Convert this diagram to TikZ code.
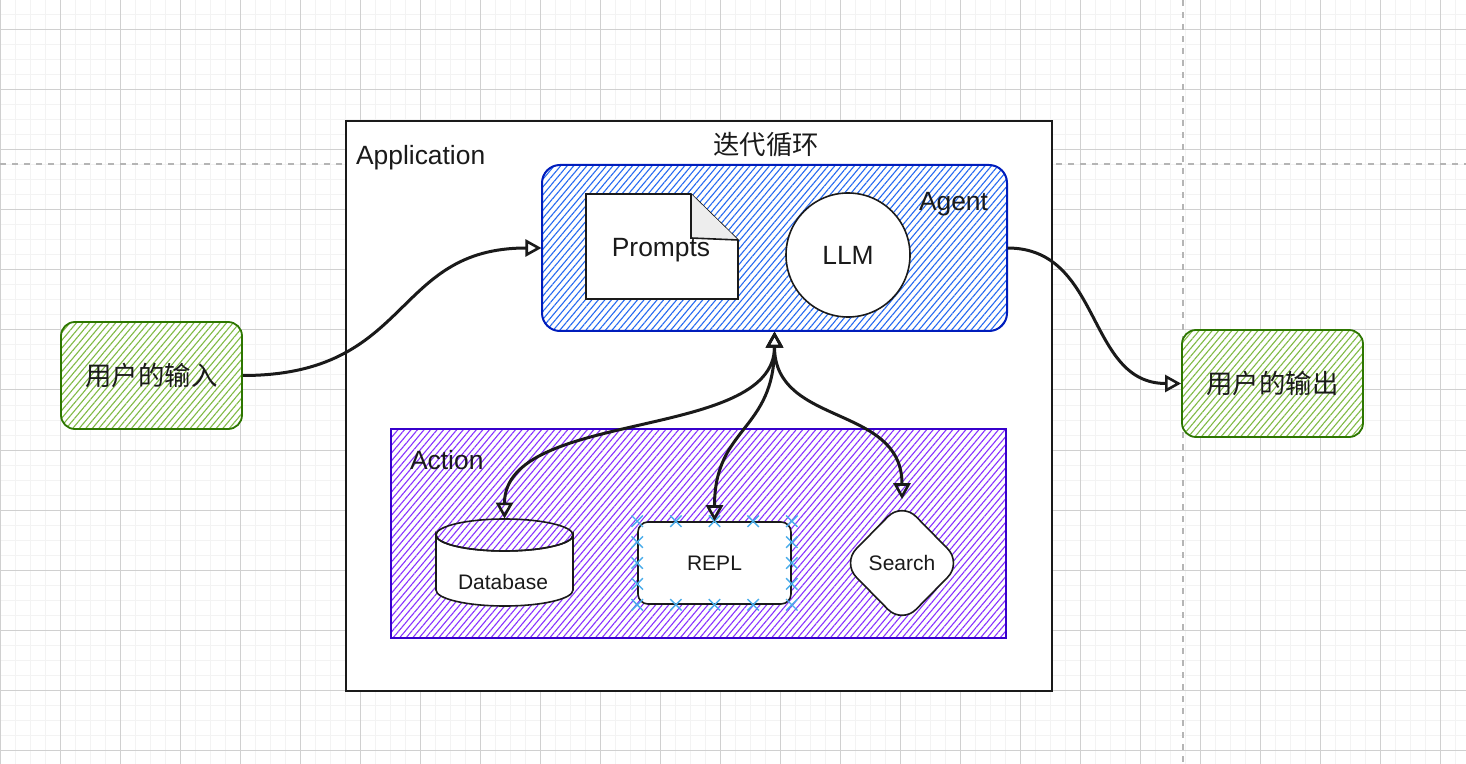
\documentclass[tikz,border=0pt]{standalone}
\usepackage{fontspec}
\setmainfont{Liberation Sans}
\newfontfamily\cjk{Noto Sans CJK SC}
\usetikzlibrary{shapes.geometric,shapes.misc,patterns.meta,arrows.meta,calc}

\definecolor{ink}{HTML}{1A1A1A}
\definecolor{gridminor}{HTML}{F3F3F3}
\definecolor{gridmajor}{HTML}{D0D0D0}
\definecolor{guide}{HTML}{B5B5B5}
\definecolor{greenline}{HTML}{2D7600}
\definecolor{greenfill}{HTML}{60A917}
\definecolor{blueline}{HTML}{001DBC}
\definecolor{bluefill}{HTML}{0050EF}
\definecolor{violetline}{HTML}{3700CC}
\definecolor{violetfill}{HTML}{6A00FF}
\definecolor{marker}{HTML}{4AADEB}
\definecolor{foldgray}{HTML}{EDEDED}

\newcommand\txtbig{\fontsize{13.2pt}{15pt}\selectfont}
\newcommand\txtsmall{\fontsize{10.5pt}{12pt}\selectfont}

\tikzset{
	hatch/.style={preaction={fill=white},
		pattern={Lines[angle=50,distance=2.5pt,line width=0.55pt]},
		pattern color=#1},
	userbox/.style={rectangle, rounded corners=7pt, draw=greenline, line width=0.9pt,
		hatch=greenfill!80, minimum width=90.5pt, minimum height=53.5pt,
		inner sep=0pt, font=\txtbig\cjk, text=ink},
	toolshape/.style={draw=ink, line width=0.8pt, fill=white, inner sep=0pt,
		font=\txtsmall, text=ink},
	xmark/.style={cross out, draw=marker, line width=0.7pt, minimum size=5pt, inner sep=0pt},
	flow/.style={draw=ink, line width=1.5pt, -{Triangle[open,length=8pt,width=8.5pt,line width=1.3pt]}},
	twoway/.style={draw=ink, line width=1.5pt,
		{Triangle[open,length=8pt,width=8.5pt,line width=1.3pt]}-{Triangle[open,length=8pt,width=8.5pt,line width=1.3pt]}}
}

\begin{document}
\begin{tikzpicture}[x=0.5pt,y=-0.5pt]
	\useasboundingbox (0,0) rectangle (1466,764);

	% background grid
	\foreach \x in {0,15,...,1470}
		\draw[gridminor, line width=0.5pt] (\x,0) -- (\x,764);
	\foreach \y in {0,15,...,765}
		\draw[gridminor, line width=0.5pt] (0,\y) -- (1466,\y);
	\foreach \x in {0,60,...,1440}
		\draw[gridmajor, line width=0.5pt] (\x,0) -- (\x,764);
	\foreach \y in {30,90,...,750}
		\draw[gridmajor, line width=0.5pt] (0,\y) -- (1466,\y);
	\draw[guide, line width=1pt, dash pattern=on 3pt off 3pt] (0,164) -- (1466,164);
	\draw[guide, line width=1pt, dash pattern=on 3pt off 3pt] (1183,0) -- (1183,764);

	% application frame
	\node[draw=ink, line width=0.75pt, fill=white, minimum width=353pt, minimum height=285pt] (app) at (699,406) {};
	\node[anchor=west, font=\txtbig, text=ink] (apptitle) at (349,158) {Application};
	\node[font=\txtbig\cjk, text=ink] (loop) at (766,145) {迭代循环};

	% agent
	\node[rectangle, rounded corners=9pt, draw=blueline, line width=1pt, hatch=bluefill!85,
		minimum width=232.5pt, minimum height=83pt] (agent) at (774.5,248) {};
	\node[font=\txtbig, text=ink] (agenttitle) at (953.5,204) {Agent};
	\draw[draw=ink, line width=0.8pt, fill=white] (586,299) -- (586,194) -- (691,194) -- (738,240) -- (738,299) -- cycle;
	\fill[foldgray] (691,194) -- (691,238) -- (738,240) -- cycle;
	\draw[draw=ink, line width=0.8pt] (691,194) -- (691,238) -- (738,240);
	\node[font=\txtbig, text=ink] (prompts) at (661,250) {Prompts};
	\node[circle, draw=ink, line width=0.8pt, fill=white, minimum size=62pt, inner sep=0pt,
		font=\txtbig, text=ink] (llm) at (848,255) {LLM};

	% action
	\node[rectangle, draw=violetline, line width=1pt, hatch=violetfill!80,
		minimum width=307.5pt, minimum height=104.5pt] (action) at (698.5,533.5) {};
	\node[anchor=west, font=\txtbig, text=ink] (actiontitle) at (403,460) {Action};

	% database drawn as a can
	\node[minimum width=68.5pt, minimum height=43.5pt, inner sep=0pt] (db) at (504.5,562.5) {};
	\draw[draw=ink, line width=0.8pt, fill=white] (436,535) -- (436,590)
		arc[start angle=180, end angle=0, x radius=68.5, y radius=16] -- (573,535)
		arc[start angle=0, end angle=180, x radius=68.5, y radius=16] -- cycle;
	\draw[draw=ink, line width=0.8pt] (504.5,535) ellipse[x radius=68.5, y radius=16];
	\node[font=\txtsmall, text=ink] (dbtext) at (503,582) {Database};

	\begin{scope}[every node/.style={toolshape}]
		\node[rectangle, rounded corners=5pt, minimum width=76.5pt, minimum height=41pt] (repl) at (714.5,563) {REPL};
		\node[diamond, rounded corners=10pt, minimum width=60pt, minimum height=61pt] (search) at (902,563) {Search};
	\end{scope}

	\foreach \f in {0,0.25,0.5,0.75,1} {
		\node[xmark] at ($(repl.north west)!\f!(repl.north east)$) {};
		\node[xmark] at ($(repl.south west)!\f!(repl.south east)$) {};
	}
	\foreach \f in {0.25,0.5,0.75} {
		\node[xmark] at ($(repl.north west)!\f!(repl.south west)$) {};
		\node[xmark] at ($(repl.north east)!\f!(repl.south east)$) {};
	}

	% user side
	\node[userbox] (input) at (151.5,375.5) {用户的输入};
	\node[userbox] (output) at (1272.5,383.5) {用户的输出};

	% connectors
	\draw[flow] (input.east) .. controls +(170,0) and +(-150,0) .. (agent.west);
	\draw[flow] (agent.east) .. controls +(95,0) and +(-95,0) .. (output.west);
	\draw[twoway] (agent.south) .. controls +(0,110) and +(0,-110) .. (db.north);
	\draw[twoway] (agent.south) .. controls +(0,100) and +(0,-95) .. (repl.north);
	\draw[twoway] (agent.south) .. controls +(0,95) and +(0,-95) .. ($(search.north)+(0,-2)$);
\end{tikzpicture}
\end{document}
